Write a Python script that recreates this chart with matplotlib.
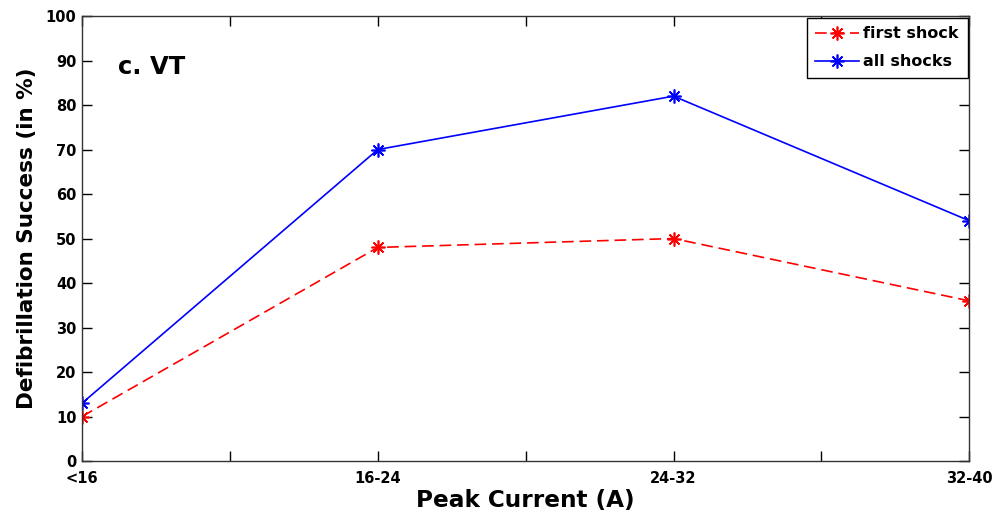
import matplotlib
matplotlib.use('Agg')
import matplotlib.pyplot as plt

plt.rcParams['font.family'] = ['DejaVu Sans']
plt.rcParams['font.weight'] = 'bold'

categories = ['<16', '16-24', '24-32', '32-40']
first_shock = [10, 48, 50, 36]
all_shocks = [13, 70, 82, 54]

x = list(range(1, len(categories) + 1))

fig = plt.figure(figsize=(9.98, 5.18), dpi=100)
ax = fig.add_axes([0.0822, 0.110, 0.889, 0.859])

ax.plot(x, first_shock, color='red', linestyle='--', linewidth=1.2, dashes=(7, 3.5),
        marker=(8, 2, 0), markersize=10, markeredgewidth=1.2, label='first shock')
ax.plot(x, all_shocks, color='blue', linestyle='-', linewidth=1.2,
        marker=(8, 2, 0), markersize=10, markeredgewidth=1.2, label='all shocks')

ax.set_xlim(1, 4)
ax.set_ylim(0, 100)
ax.set_yticks(range(0, 101, 10))

# MATLAB-style ticks: half-steps without labels
ticks = [1, 1.5, 2, 2.5, 3, 3.5, 4]
labels = ['<16', '', '16-24', '', '24-32', '', '32-40']
ax.set_xticks(ticks)
ax.set_xticklabels(labels)

ax.tick_params(direction='in', top=True, right=True, length=7, width=1,
               labelsize=10.5, pad=4)
ax.tick_params(axis='x', pad=7)
for s in ax.spines.values():
    s.set_linewidth(1)
    s.set_color('#333333')

ax.set_xlabel('Peak Current (A)', fontsize=16.7, fontweight='bold', labelpad=2)
ax.set_ylabel('Defibrillation Success (in %)', fontsize=15.5, fontweight='bold', labelpad=6)

ax.text(0.04, 0.87, 'c. VT', transform=ax.transAxes, fontsize=17.5, fontweight='bold')

leg = ax.legend(loc='upper right', fontsize=11.5, borderaxespad=0.1, fancybox=False,
                framealpha=1, edgecolor='black', handlelength=2.7, handletextpad=0.3,
                labelspacing=0.8, borderpad=0.55)
leg.get_frame().set_linewidth(1)

fig.savefig('out.png', dpi=100)
